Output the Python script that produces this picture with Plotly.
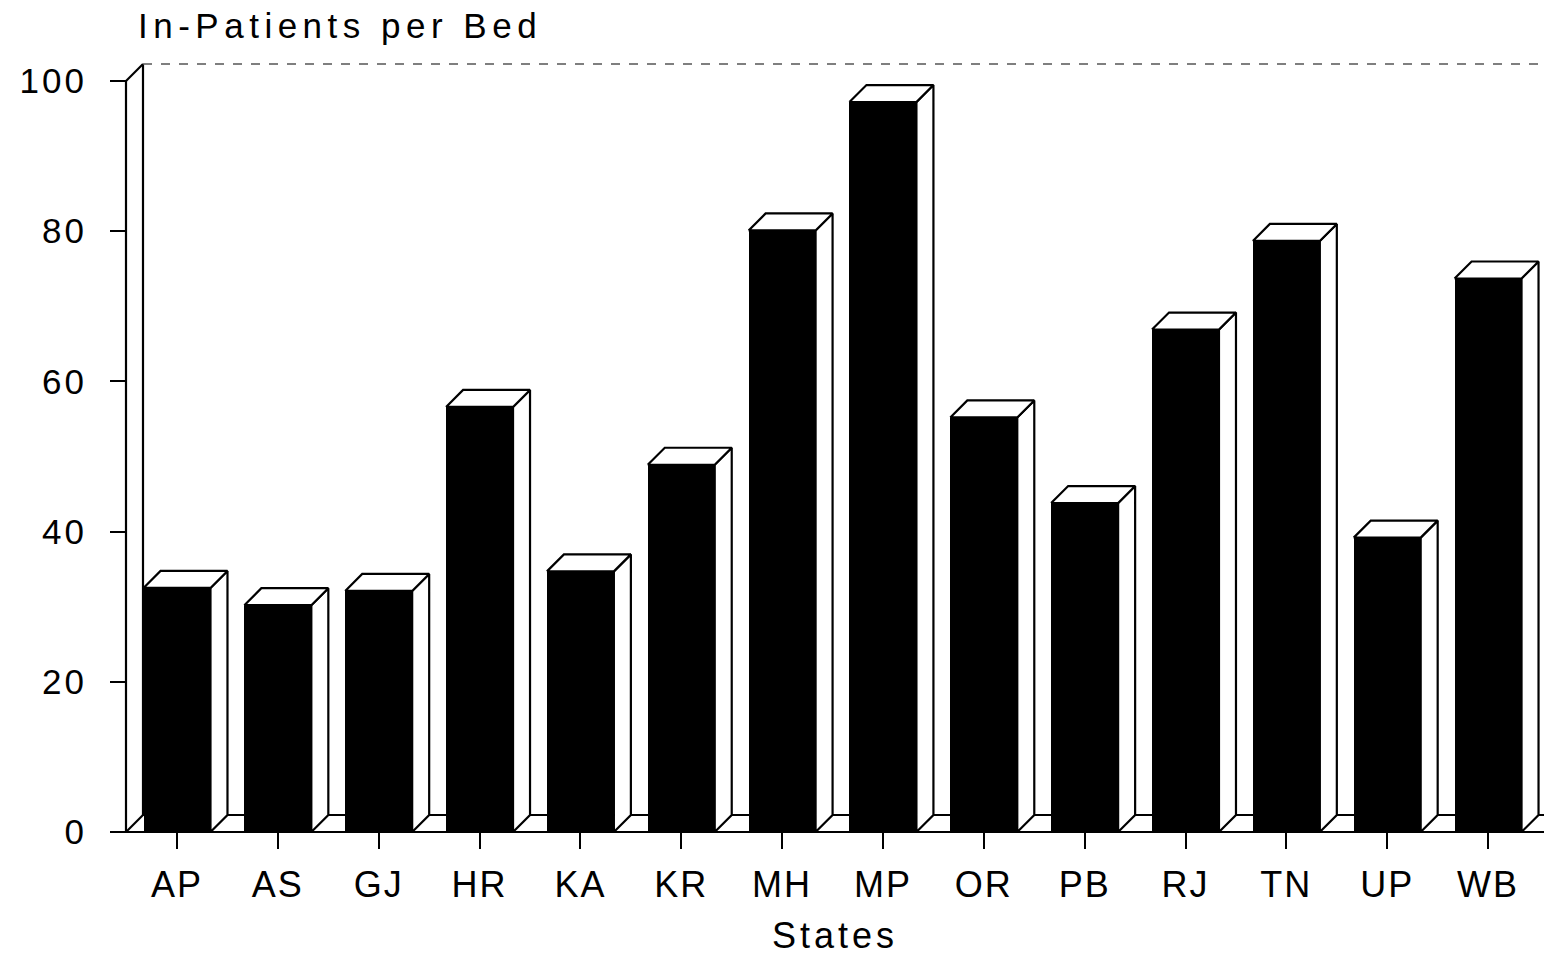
import plotly.graph_objects as go

# In-patients per hospital bed, by state
states = ["AP", "AS", "GJ", "HR", "KA", "KR", "MH", "MP", "OR", "PB", "RJ", "TN", "UP", "WB"]
inpatients = [32.5, 30.2, 32.1, 56.6, 34.7, 48.9, 80.1, 97.2, 55.2, 43.8, 66.9, 78.7, 39.2, 73.7]
y_ticks = [0, 20, 40, 60, 80, 100]
y_tick_labels = ["0", "20", "40", "60", "80", "100"]
title_text = "In-Patients per Bed"
x_title_text = "States"

# ---- page geometry (pixels) ----
W, H = 1544, 956
ML, MR, MT, MB = 100, 0, 50, 100
plot_w = W - ML - MR
plot_h = H - MT - MB
cat_step_px = 100.85      # distance between category centres
unit_px = 7.51            # pixels per unit on the value axis
first_cat_px = 177        # centre of the first category
axis_px = 126             # front edge of the floor / value axis
base_px = 832             # front baseline (value 0)
depth_px = 17             # 3-D depth offset

x_lo = (ML - first_cat_px) / cat_step_px
x_hi = (W - MR - first_cat_px) / cat_step_px
y_lo = -(H - MB - base_px) / unit_px
y_hi = (base_px - MT) / unit_px
x_front = (axis_px - first_cat_px) / cat_step_px
DX = depth_px / cat_step_px
DY = depth_px / unit_px
BAR_W = 0.664
TOP = y_ticks[-1]

xs = list(range(len(states)))

fig = go.Figure()

# front faces of the bars
fig.add_trace(go.Bar(
    x=xs, y=inpatients, width=BAR_W,
    marker=dict(color="black", line=dict(width=0)),
    hoverinfo="skip", showlegend=False,
))

# box frame: front value axis, left wall, back floor and front baseline
line_style = dict(color="black", width=2.2)
frame_x = [x_front, x_front, None,
           x_front, x_front + DX, None,
           x_front, x_front + DX, None,
           x_front + DX, x_front + DX, None,
           x_front + DX, x_hi, None,
           x_front, x_hi]
frame_y = [0, TOP, None,
           TOP, TOP + DY, None,
           0, DY, None,
           DY, TOP + DY, None,
           DY, DY, None,
           0, 0]
fig.add_trace(go.Scatter(x=frame_x, y=frame_y, mode="lines", line=line_style,
                         hoverinfo="skip", showlegend=False))
# back top edge of the wall
fig.add_trace(go.Scatter(x=[x_front + DX, x_hi], y=[TOP + DY, TOP + DY], mode="lines",
                         line=dict(color="#555555", width=1.3, dash="dash"),
                         hoverinfo="skip", showlegend=False))

# side faces
side_x, side_y = [], []
for xi, v in zip(xs, inpatients):
    r = xi + BAR_W / 2
    side_x += [r, r + DX, r + DX, r, r, None]
    side_y += [v, v + DY, DY, 0, v, None]
fig.add_trace(go.Scatter(x=side_x, y=side_y, mode="lines", fill="toself",
                         fillcolor="white", line=line_style,
                         hoverinfo="skip", showlegend=False))

# top faces
top_x, top_y = [], []
for xi, v in zip(xs, inpatients):
    l, r = xi - BAR_W / 2, xi + BAR_W / 2
    top_x += [l, r, r + DX, l + DX, l, None]
    top_y += [v, v, v + DY, v + DY, v, None]
fig.add_trace(go.Scatter(x=top_x, y=top_y, mode="lines", fill="toself",
                         fillcolor="white", line=line_style,
                         hoverinfo="skip", showlegend=False))


def spaced(text, px):
    return f'<span style="letter-spacing:{px}px">{text}</span>'


font_name = "Liberation Sans, Arial, sans-serif"

fig.update_layout(
    width=W, height=H,
    margin=dict(l=ML, r=MR, t=MT, b=MB),
    paper_bgcolor="white", plot_bgcolor="white",
    showlegend=False,
    bargap=0,
    font=dict(family=font_name, color="black"),
    xaxis=dict(
        range=[x_lo, x_hi], anchor="free",
        position=(H - MB - base_px) / plot_h,
        tickmode="array", tickvals=xs,
        ticktext=[spaced(s, 2) for s in states],
        ticks="outside", ticklen=16, tickwidth=2, tickcolor="black",
        tickfont=dict(size=36, family=font_name, color="black"),
        showline=False, showgrid=False, zeroline=False,
        ticklabelstandoff=5,
    ),
    yaxis=dict(
        range=[y_lo, y_hi], anchor="free",
        position=(axis_px - ML) / plot_w,
        tickmode="array", tickvals=y_ticks,
        ticktext=[spaced(t, 3) for t in y_tick_labels],
        ticks="outside", ticklen=16, tickwidth=2, tickcolor="black",
        tickfont=dict(size=35, family=font_name, color="black"),
        showline=False, showgrid=False, zeroline=False,
        ticklabelstandoff=16,
    ),
    annotations=[
        dict(text=spaced(title_text, 5.5), xref="paper", yref="paper",
             x=(136 - ML) / plot_w, y=(H - MB - 26) / plot_h,
             xanchor="left", yanchor="middle", showarrow=False,
             font=dict(size=35, family=font_name, color="black")),
        dict(text=spaced(x_title_text, 4), xref="paper", yref="paper",
             x=(835 - ML) / plot_w, y=(H - MB - 935) / plot_h,
             xanchor="center", yanchor="middle", showarrow=False,
             font=dict(size=36, family=font_name, color="black")),
    ],
)

fig.write_html("out.html")
